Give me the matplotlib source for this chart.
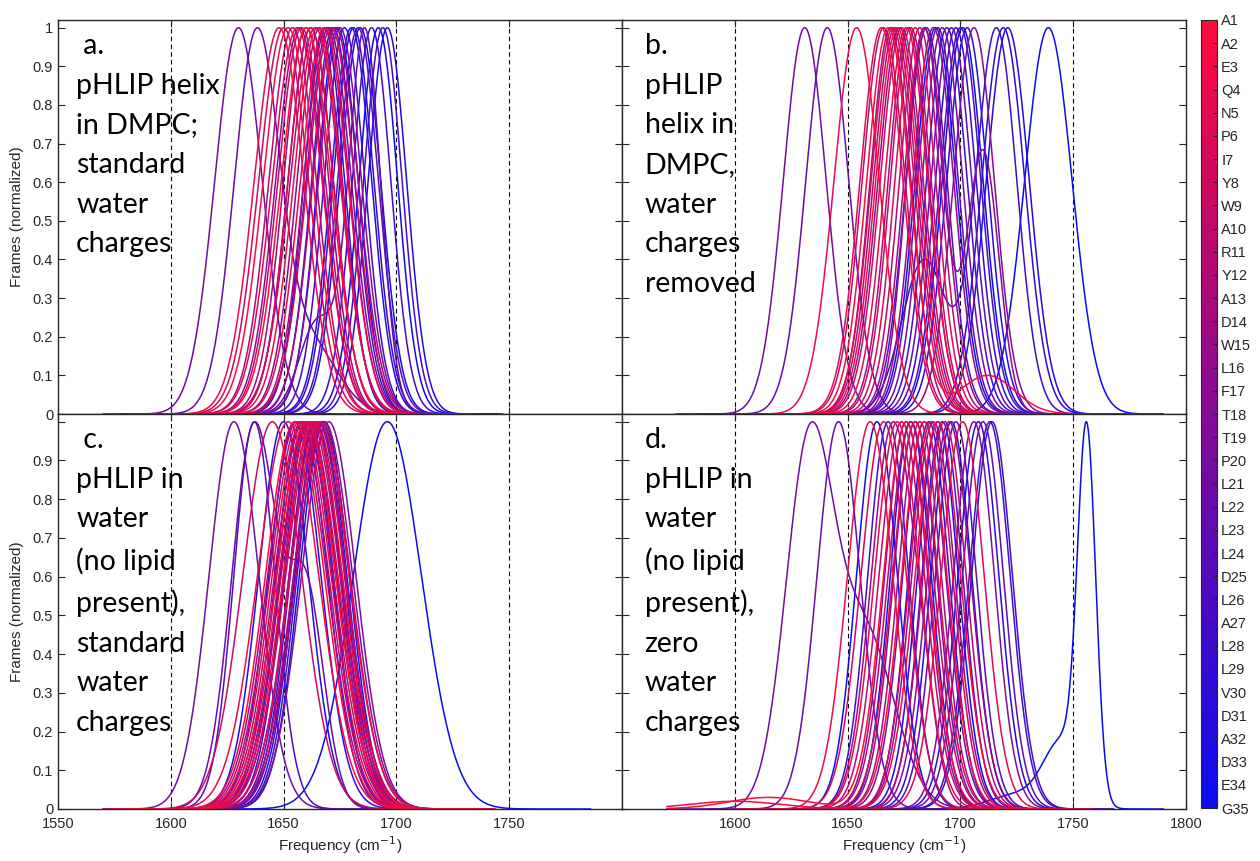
import numpy as np
import matplotlib
matplotlib.use("Agg")
import matplotlib.pyplot as plt
from matplotlib.colors import LinearSegmentedColormap, Normalize
from matplotlib.cm import ScalarMappable

plt.rcParams['font.family'] = ['Liberation Sans', 'DejaVu Sans']

residues = ['A1', 'A2', 'E3', 'Q4', 'N5', 'P6', 'I7', 'Y8', 'W9', 'A10', 'R11', 'Y12',
            'A13', 'D14', 'W15', 'L16', 'F17', 'T18', 'T19', 'P20', 'L21', 'L22', 'L23',
            'L24', 'D25', 'L26', 'A27', 'L28', 'L29', 'V30', 'D31', 'A32', 'D33', 'E34', 'G35']

# peak position (cm^-1) and width (sigma) of each residue's frequency distribution
a_center = [1660, 1652, 1665, 1648, 1668, 1656, 1662, 1650, 1671, 1658, 1664, 1654, 1669,
            1660, 1673, 1657, 1666, 1662, 1675, 1670, 1630, 1638, 1686, 1683, 1672,
            1694, 1677, 1689, 1668, 1681, 1680, 1696, 1674, 1684, 1692]
a_sigma = [11, 11, 10.5, 11, 10.5, 11, 10, 11, 10.5, 10.5, 11, 10.5, 10,
           10, 10, 10.5, 10, 10, 9.5, 10, 10.5, 10, 7, 9, 9.5,
           8.5, 9, 8.5, 9, 9, 9, 8.5, 9, 9, 8.5]

b_center = [1668, 1672, 1654, 1676, 1665, 1680, 1670, 1674, 1678, 1666, 1682, 1671, 1677,
            1669, 1684, 1673, 1688, 1684, 1706, 1692, 1631, 1641, 1696, 1690, 1685,
            1700, 1694, 1716, 1698, 1719, 1703, 1721, 1689, 1701, 1739]
b_sigma = [9.5, 9.5, 10, 9.5, 9.5, 9, 9.5, 9.5, 9, 9.5, 9, 9.5, 9,
           9, 9, 9.5, 9, 8, 9, 9, 9.5, 9.5, 9, 9, 9,
           9, 9, 9, 9, 9.5, 9, 9.5, 9, 9, 10.5]

c_center = [1660, 1655, 1663, 1652, 1666, 1658, 1661, 1645, 1664, 1657, 1662, 1659, 1667,
            1656, 1665, 1660, 1668, 1663, 1670, 1661, 1628, 1637, 1666, 1664, 1637,
            1664, 1658, 1667, 1661, 1655, 1666, 1650, 1668, 1660, 1696]
c_sigma = [13, 13, 13, 13.5, 13, 13, 13, 13, 13, 13, 13, 13, 12.5,
           13, 12.5, 13, 12.5, 12.5, 12, 12.5, 11, 10, 11.5, 11.5, 9,
           11, 11.5, 11, 11, 11.5, 11, 11, 11, 11.5, 15]

d_center = [1676, 1684, 1660, 1690, 1672, 1701, 1680, 1666, 1687, 1674, 1693, 1678, 1682,
            1670, 1688, 1676, 1695, 1680, 1706, 1684, 1633, 1646, 1710, 1698, 1692,
            1713, 1668, 1714, 1686, 1696, 1708, 1678, 1690, 1663, 1756]
d_sigma = [10, 10, 10, 10, 10, 9.5, 10, 10, 9.5, 10, 9.5, 10, 9.5,
           9.5, 9.5, 9.5, 9.5, 9.5, 9, 9.5, 10.5, 9.5, 9, 9, 9,
           9, 9, 9, 9, 9, 9, 9, 9, 9, 4]

# secondary bands: (residue index, relative height, position, sigma)
a_extra = [(21, 0.18, 1662, 12), (22, 0.24, 1665, 8)]
b_extra = [(0, 0.1, 1712, 12), (17, 0.68, 1710, 7), (27, 0.4, 1684, 10)]
c_extra = [(21, 0.55, 1660, 8)]
d_extra = [(0, 0.03, 1615, 18), (1, 0.02, 1600, 20), (20, 0.48, 1658, 13),
           (13, 0.13, 1684, 6), (34, 0.18, 1745, 8), (34, 0.04, 1725, 12)]

panel_text = [' a.\npHLIP helix\nin DMPC;\nstandard\nwater\ncharges',
              'b.\npHLIP\nhelix in\nDMPC,\nwater\ncharges\nremoved',
              ' c.\npHLIP in\nwater\n(no lipid\npresent),\nstandard\nwater\ncharges',
              'd.\npHLIP in\nwater\n(no lipid\npresent),\nzero\nwater\ncharges']

# residue 1 is red, residue 35 is blue
cmap = LinearSegmentedColormap.from_list('res', ['#FF0A3A', '#0B0BF2'])
norm = Normalize(vmin=1, vmax=len(residues))

W, H = 1260, 861
fig = plt.figure(figsize=(W / 100, H / 100), dpi=100)


def px_axes(x0, y0, x1, y1):
    return fig.add_axes([x0 / W, 1 - y1 / H, (x1 - x0) / W, (y1 - y0) / H])


axes = [px_axes(58, 20, 622, 414), px_axes(622, 20, 1186, 414),
        px_axes(58, 414, 622, 809), px_axes(622, 414, 1186, 809)]

panels = [(a_center, a_sigma, a_extra), (b_center, b_sigma, b_extra),
          (c_center, c_sigma, c_extra), (d_center, d_sigma, d_extra)]

ink = '#262626'
for k, (ax, (cen, sig, extra)) in enumerate(zip(axes, panels)):
    for xv in [1600, 1650, 1700, 1750]:
        ax.axvline(xv, color='k', lw=0.8, ls=(0, (4, 3)), zorder=0)
    # C-terminal residues first so the red N-terminal curves sit on top
    for i in reversed(range(len(residues))):
        comps = [(1.0, cen[i], sig[i])] + [(h, c, s) for j, h, c, s in extra if j == i]
        lo = min(c - 6 * s for h, c, s in comps)
        hi = max(c + 6 * s for h, c, s in comps)
        x = np.linspace(max(lo, 1570), min(hi, 1790), 400)
        y = sum(h * np.exp(-0.5 * ((x - c) / s) ** 2) for h, c, s in comps)
        ax.plot(x, y / y.max(), color=cmap(norm(i + 1)), lw=1.1)

    ax.set_xlim(1550, 1800)
    ax.set_ylim(0, 1.02)
    ax.tick_params(direction='in', top=True, right=True, length=5, width=0.8,
                   labelsize=10.5, colors=ink, labelcolor=ink)
    ax.tick_params(axis='x', pad=6)
    for sp in ax.spines.values():
        sp.set_color(ink)
        sp.set_linewidth(1.0)

    left = k % 2 == 0
    top = k < 2
    ax.set_xticks([1550, 1600, 1650, 1700, 1750] if left else [1600, 1650, 1700, 1750, 1800])
    ax.set_yticks(np.arange(0, 1.01, 0.1))
    ylabels = ['0'] + ['%.1f' % v for v in np.arange(0.1, 0.95, 0.1)]
    if top:
        ax.set_yticklabels(ylabels + ['1'])
        ax.tick_params(labelbottom=False)
    else:
        ax.set_yticklabels(ylabels + [''])
        ax.set_xlabel('Frequency (cm$^{-1}$)', fontsize=11, color=ink, labelpad=2)
    if left:
        ax.set_ylabel('Frames (normalized)', fontsize=11, color=ink, labelpad=6)
    else:
        ax.tick_params(labelleft=False)

    ax.text(0.032 if left else 0.040, 0.967, panel_text[k], transform=ax.transAxes,
            ha='left', va='top', fontsize=20.5, family='Lato', linespacing=1.65, color='k')

cax = px_axes(1201, 20, 1217, 808)
sm = ScalarMappable(norm=norm, cmap=cmap)
cb = fig.colorbar(sm, cax=cax)
cb.set_ticks(np.arange(1, len(residues) + 1))
cb.set_ticklabels(residues)
cax.invert_yaxis()
cax.tick_params(direction='in', length=3, width=0.8, labelsize=10.5, colors=ink, labelcolor=ink, pad=3)
cb.outline.set_edgecolor(ink)
cb.outline.set_linewidth(0.8)

fig.savefig('out.png', dpi=100)
